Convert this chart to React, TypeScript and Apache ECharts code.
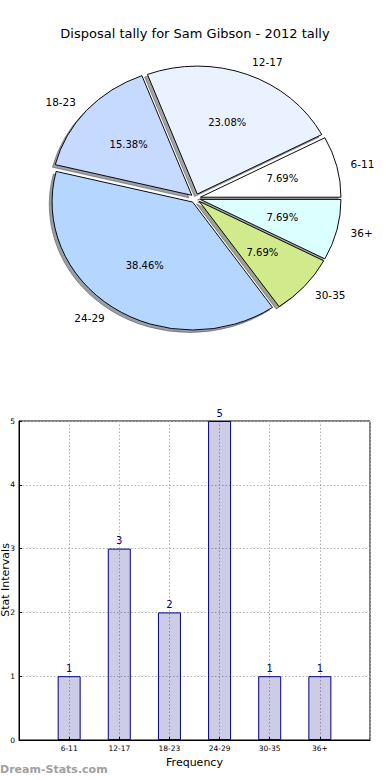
import React, { useEffect, useRef } from "react";
import * as echarts from "echarts";

const categories = ["6-11", "12-17", "18-23", "24-29", "30-35", "36+"];
const tally = [1, 3, 2, 5, 1, 1];
const sliceColors = ["#ffffff", "#eaf2ff", "#c6d9ff", "#b5d6ff", "#d0ea8c", "#dcffff"];
const yTicks = [0, 1, 2, 3, 4, 5];
const titleText = "Disposal tally for Sam Gibson - 2012 tally";

const FONT = "DejaVu Sans";

export default function App() {
  const ref = useRef<HTMLDivElement>(null);
  useEffect(() => {
    document.body.style.margin = "0";
    if (!ref.current) return;
    const chart = echarts.init(ref.current, undefined, { renderer: "svg" });

    const total = tally.reduce((a, b) => a + b, 0);
    const starts: number[] = [];
    let acc = 0;
    tally.forEach((v) => {
      starts.push(acc);
      acc += v;
    });

    const cx = 195.5;
    const cy = 198.3;
    const a = 140.6;
    const b = 128;
    const k = b / a;
    const explode = 0.0356;

    const shade = (hex: string) => {
      const r = parseInt(hex.slice(1, 3), 16);
      const g = parseInt(hex.slice(3, 5), 16);
      const bl = parseInt(hex.slice(5, 7), 16);
      return `rgba(${Math.round(r * 0.3)},${Math.round(g * 0.3)},${Math.round(bl * 0.3)},0.5)`;
    };

    const sliceGeom = (i: number, v: number) => {
      const t1 = (starts[i] / total) * Math.PI * 2;
      const t2 = ((starts[i] + v) / total) * Math.PI * 2;
      const tm = (t1 + t2) / 2;
      const ex = explode * a * Math.cos(tm);
      const ey = -explode * b * Math.sin(tm);
      return { t1, t2, tm, ex, ey };
    };

    const pieRender = (shadow: boolean) => (params: any, api: any) => {
      const i = params.dataIndex;
      const v = api.value(0);
      const { t1, t2, tm, ex, ey } = sliceGeom(i, v);
      const sectorEl = {
        type: "group",
        x: cx + ex + (shadow ? -0.02 * a : 0),
        y: cy + ey + (shadow ? 0.02 * b : 0),
        scaleX: 1,
        scaleY: k,
        children: [
          {
            type: "sector",
            shape: { cx: 0, cy: 0, r: a, r0: 0, startAngle: -t2, endAngle: -t1, clockwise: true },
            style: shadow
              ? { fill: shade(sliceColors[i]), stroke: shade(sliceColors[i]), lineWidth: 1, strokeNoScale: true }
              : { fill: sliceColors[i], stroke: "#000", lineWidth: 1, strokeNoScale: true },
          },
        ],
      };
      if (shadow) return sectorEl;
      const pctX = cx + ex + 0.6 * a * Math.cos(tm);
      const pctY = cy + ey - 0.6 * b * Math.sin(tm);
      const lx = cx + ex + 1.1 * a * Math.cos(tm);
      const ly = cy + ey - 1.1 * b * Math.sin(tm);
      return {
        type: "group",
        children: [
          sectorEl,
          {
            type: "text",
            x: pctX,
            y: pctY,
            style: {
              text: ((v / total) * 100).toFixed(2) + "%",
              fill: "#000",
              font: `10px "${FONT}"`,
              align: "center",
              verticalAlign: "middle",
            },
          },
          {
            type: "text",
            x: lx,
            y: ly,
            style: {
              text: categories[i],
              fill: "#000",
              font: `10.5px "${FONT}"`,
              align: Math.cos(tm) > 0 ? "left" : "right",
              verticalAlign: "middle",
            },
          },
        ],
      };
    };

    const barData = tally.map((v, i) => [i + 1, v]);

    chart.setOption({
      animation: false,
      textStyle: { fontFamily: FONT },
      title: {
        text: titleText,
        left: "center",
        top: 22,
        textStyle: { fontSize: 13, fontWeight: "normal", color: "#000", fontFamily: FONT },
      },
      grid: {
        left: 19,
        right: 20,
        top: 421,
        bottom: 40,
        containLabel: false,
        outerBoundsMode: "none",
        show: true,
        borderColor: "#000",
        borderWidth: 1,
        backgroundColor: "transparent",
      },
      xAxis: {
        type: "value",
        min: 0,
        max: categories.length + 1,
        interval: 1,
        name: "Frequency",
        nameLocation: "middle",
        nameGap: 17,
        nameTextStyle: { fontSize: 11, color: "#000", fontFamily: FONT },
        axisLine: { show: true, lineStyle: { color: "#000" } },
        axisTick: { show: true, inside: true, length: 3, lineStyle: { color: "#000" } },
        axisLabel: {
          fontSize: 7.5,
          color: "#000",
          margin: 4,
          fontFamily: FONT,
          showMinLabel: false,
          showMaxLabel: false,
          formatter: (val: number) => categories[val - 1] ?? "",
        },
        splitLine: { show: true, lineStyle: { type: [1.5, 2], color: "#b0b0b0" } },
      },
      yAxis: {
        type: "value",
        min: 0,
        max: 5,
        interval: 1,
        axisLine: { show: true, lineStyle: { color: "#000" } },
        axisTick: { show: true, inside: true, length: 3, lineStyle: { color: "#000" } },
        axisLabel: {
          fontSize: 7.5,
          color: "#000",
          margin: 4,
          fontFamily: FONT,
          formatter: (val: number) => (yTicks.includes(val) ? String(val) : ""),
        },
        splitLine: { show: true, lineStyle: { type: [1.5, 2], color: "#b0b0b0" } },
      },
      graphic: [
        {
          type: "text",
          x: 5.5,
          y: 580,
          rotation: Math.PI / 2,
          style: {
            text: "Stat Intervals",
            fill: "#000",
            font: `11px "${FONT}"`,
            align: "center",
            verticalAlign: "middle",
          },
        },
        {
          type: "text",
          left: 0,
          top: 764,
          style: { text: "Dream-Stats.com", fill: "#a0a0a0", font: `bold 11px "${FONT}"` },
        },
      ],
      series: [
        {
          type: "custom",
          coordinateSystem: "none",
          data: tally,
          renderItem: pieRender(true),
          z: 1,
        },
        {
          type: "custom",
          coordinateSystem: "none",
          data: tally,
          renderItem: pieRender(false),
          z: 2,
        },
        {
          type: "bar",
          data: barData,
          barWidth: 23,
          itemStyle: { color: "rgba(0,0,128,0.2)", borderColor: "#000080", borderWidth: 1 },
          label: {
            show: true,
            position: "top",
            distance: 3,
            color: "#000080",
            fontSize: 10,
            fontFamily: FONT,
            formatter: (p: any) => String(p.value[1]),
          },
        },
      ],
    });
    return () => chart.dispose();
  }, []);
  return <div ref={ref} style={{ width: 390, height: 780 }} />;
}
